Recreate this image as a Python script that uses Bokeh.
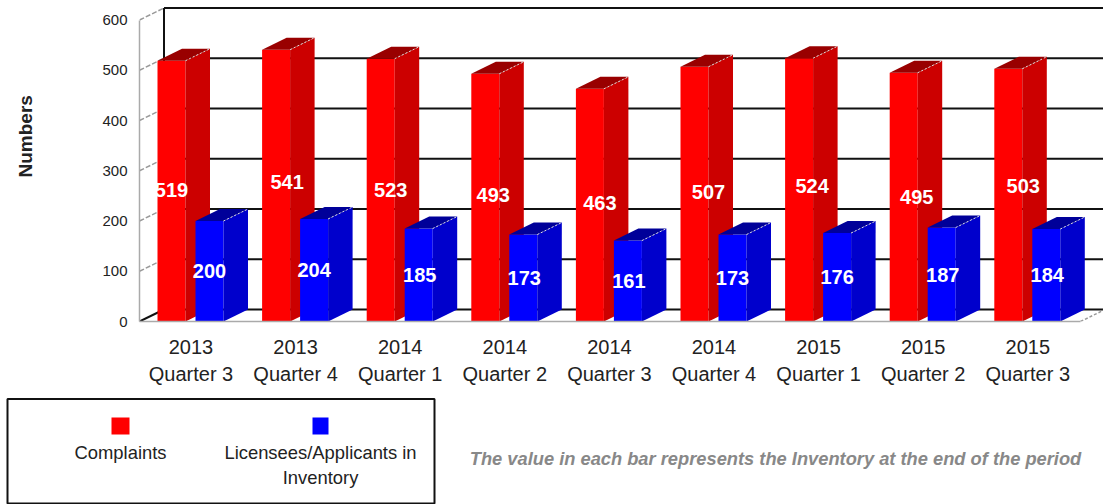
from bokeh.plotting import figure
from bokeh.models import Range1d, FixedTicker, ColumnDataSource, Title
from bokeh.core.properties import value
from bokeh.embed import file_html
from bokeh.resources import INLINE

periods = ["2013\nQuarter 3", "2013\nQuarter 4", "2014\nQuarter 1", "2014\nQuarter 2", "2014\nQuarter 3",
           "2014\nQuarter 4", "2015\nQuarter 1", "2015\nQuarter 2", "2015\nQuarter 3"]
complaints = [519, 541, 523, 493, 463, 507, 524, 495, 503]
licensees = [200, 204, 185, 173, 161, 173, 176, 187, 184]
y_ticks = [0, 100, 200, 300, 400, 500, 600]
series_names = ["Complaints", "Licensees/Applicants in\nInventory"]
footnote = "The value in each bar represents the Inventory at the end of the period"
# label nudges (px) as the original renderer placed them
red_label_dx = [0, 11, 10, 8, 10, 14, 13, 13, 15]
red_label_dy = [-1, -4, 0, -3, -2, -2, -4, 0, -9]
blue_label_dx = [0, 0, 1, 1, 1, 0, 0, 1, 1]

FONT = "Liberation Sans"
PAD = 0                    # picture px of the figure's left/top edge
W, H1, H2 = 1103, 393, 111
px_per_group = 104.6
px_per_unit = 0.5025
x0_px = 190.5 - PAD        # figure px of the first group's centre
frame_left = 139 - PAD
frame_h = 321 - PAD
DX = 24.5 / px_per_group   # depth in x data units
DY = 12 / px_per_unit      # depth in y data units
BW = 28 / px_per_group
RED_L, BLUE_L = -33.5 / px_per_group, 4.5 / px_per_group

x_start = (frame_left - x0_px) / px_per_group
x_end = (W - x0_px) / px_per_group
floor_end = (1080 - PAD - x0_px) / px_per_group
n = len(periods)

p = figure(width=W, height=H1, output_backend="svg", toolbar_location=None,
           x_range=Range1d(x_start, x_end), y_range=Range1d(0, frame_h / px_per_unit),
           min_border_left=frame_left, min_border_right=0, min_border_top=0, min_border_bottom=H1 - frame_h,
           outline_line_color=None, background_fill_color="white", border_fill_color="white")
p.grid.visible = False

# back wall
p.segment(x_start + DX, [v + DY for v in y_ticks], x_end, [v + DY for v in y_ticks],
          line_color="#111111", line_width=2)
p.segment([x_start + DX], [DY], [x_start + DX], [600 + DY], line_color="#111111", line_width=2)
# side wall diagonals
p.segment([x_start] * 6, y_ticks[1:], [x_start + DX] * 6, [v + DY for v in y_ticks[1:]],
          line_color="#999999", line_width=1.5, line_dash="5 2")
p.segment([x_start], [0], [x_start + DX], [DY], line_color="#111111", line_width=2)
# floor right edge
p.segment([floor_end], [0], [floor_end + DX], [DY], line_color="#999999", line_width=1.5, line_dash="3 2")


def bars(vals, left, front, side, top):
    xs = [i + left for i in range(n)]
    p.vbar(x=[x + BW / 2 for x in xs], top=vals, bottom=0, width=BW, fill_color=front, line_color=None)
    p.patches([[x + BW, x + BW + DX, x + BW + DX, x + BW] for x in xs],
              [[0, DY, v + DY, v] for v in vals], fill_color=side, line_color=None)
    p.patches([[x, x + DX, x + BW + DX, x + BW] for x in xs],
              [[v, v + DY, v + DY, v] for v in vals], fill_color=top, line_color=None)
    p.segment([x + BW for x in xs], vals, [x + BW + DX for x in xs], [v + DY for v in vals],
              line_color="#dddddd", line_width=1, line_dash="2 2")


bars(complaints, RED_L, "#ff0000", "#cc0000", "#990000")
bars(licensees, BLUE_L, "#0000ff", "#0000cc", "#000099")

label_style = dict(text_color="white", text_font=value(FONT), text_font_style="bold",
                   text_font_size="20px", text_align="center", text_baseline="middle")
p.text(x="x", y="y", text="t", x_offset="dx", y_offset="dy", source=ColumnDataSource(dict(
    x=[i + RED_L + BW / 2 for i in range(n)], y=[v / 2 for v in complaints],
    t=[str(v) for v in complaints], dx=red_label_dx, dy=red_label_dy)), **label_style)
p.text(x="x", y="y", text="t", x_offset="dx", y_offset="dy", source=ColumnDataSource(dict(
    x=[i + BLUE_L + BW / 2 for i in range(n)], y=[v / 2 for v in licensees],
    t=[str(v) for v in licensees], dx=blue_label_dx, dy=[0] * n)), **label_style)

ya = p.yaxis[0]
ya.ticker = FixedTicker(ticks=y_ticks)
ya.bounds = (0, 600)
ya.axis_line_color = "#aaaaaa"
ya.axis_line_width = 1.5
ya.major_tick_line_color = None
ya.minor_tick_line_color = None
ya.major_tick_out = 0
ya.major_label_standoff = 12
ya.major_label_text_font = FONT
ya.major_label_text_font_size = "15px"
ya.major_label_text_color = "#222222"
ya.axis_label = " "        # keeps the room between tick labels and the title below
ya.axis_label_standoff = 44
ya.axis_label_text_font_size = "15px"

# axis title sits above the frame's centre in the original, hence a side Title with an offset
p.add_layout(Title(text="Numbers", align="left", offset=144, standoff=0, text_font=FONT,
                   text_font_style="bold", text_font_size="19px", text_color="#222222"), "left")

xa = p.xaxis[0]
xa.ticker = FixedTicker(ticks=list(range(n)))
xa.major_label_overrides = {i: s for i, s in enumerate(periods)}
xa.bounds = (x_start, floor_end)
xa.axis_line_color = "#aaaaaa"
xa.axis_line_width = 1.5
xa.major_tick_line_color = None
xa.minor_tick_line_color = None
xa.major_tick_out = 0
xa.major_label_standoff = 14
xa.major_label_text_font = FONT
xa.major_label_text_font_size = "20px"
xa.major_label_text_color = "#222222"
xa.major_label_text_line_height = 1.25

# legend / note strip; coordinates are picture pixels
q = figure(width=W, height=H2, output_backend="svg", toolbar_location=None,
           x_range=Range1d(PAD, PAD + W), y_range=Range1d(PAD + H1 + H2, PAD + H1),
           min_border=0, outline_line_color=None)
q.axis.visible = False
q.grid.visible = False
q.quad(left=[7], right=[434], top=[398.5], bottom=[503], fill_color="white", line_color="#111111", line_width=2)
q.quad(left=[111, 312], right=[129, 328], top=[417, 417], bottom=[434, 434],
       fill_color=["#ff0000", "#0000ff"], line_color=None)
q.text(x=[120, 320, 320], y=[452, 452, 477],
       text=[series_names[0]] + series_names[1].split("\n"), text_font=value(FONT), text_font_size="18.4px",
       text_color="#222222", text_align="center", text_baseline="middle")
q.text(x=[775], y=[458], text=[footnote], text_font=value(FONT), text_font_style="bold italic",
       text_font_size="18.3px", text_color="#888888", text_align="center", text_baseline="middle")

open("out.html", "w").write(file_html([p, q], INLINE))
